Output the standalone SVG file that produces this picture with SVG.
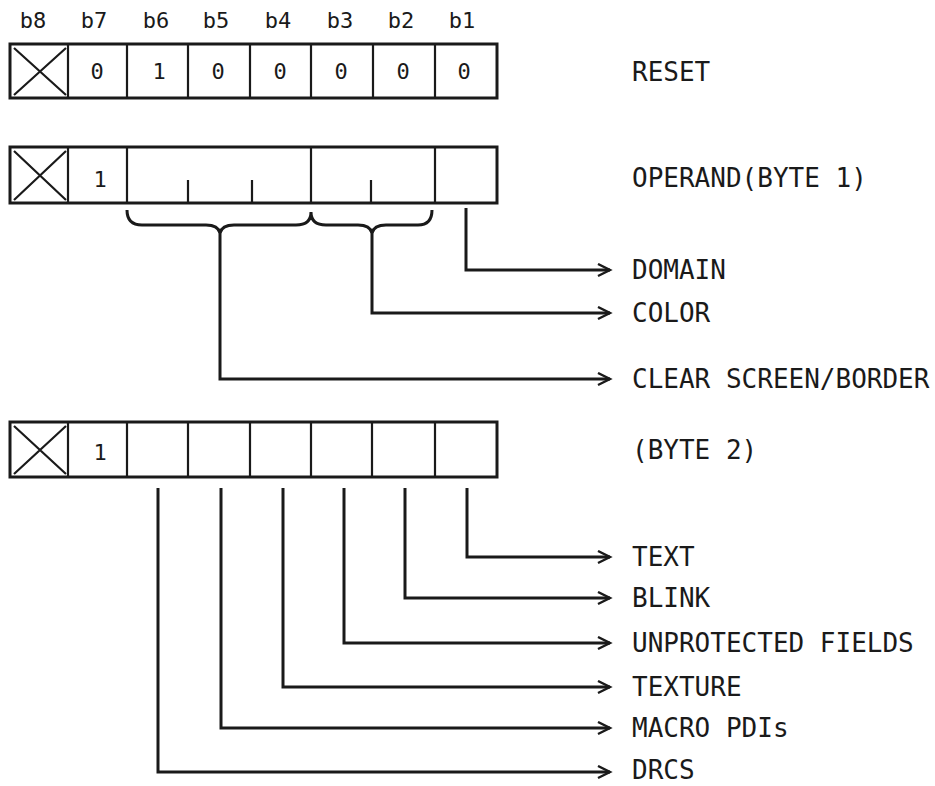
<svg xmlns="http://www.w3.org/2000/svg" width="935" height="786" viewBox="0 0 935 786">
<defs>
<style>
.box{fill:none;stroke:#1a1a1a;stroke-width:3}
.div{stroke:#1a1a1a;stroke-width:2.2;fill:none}
.tick{stroke:#1a1a1a;stroke-width:2.2}
.con{fill:none;stroke:#1a1a1a;stroke-width:3;stroke-linejoin:miter}
.lbl{font-family:"DejaVu Sans Mono","Liberation Mono",monospace;font-size:26px;fill:#1a1a1a}
.hdr{font-family:"DejaVu Sans Mono","Liberation Mono",monospace;font-size:22px;fill:#1a1a1a;text-anchor:middle}
.dig{font-family:"DejaVu Sans Mono","Liberation Mono",monospace;font-size:22px;fill:#1a1a1a;text-anchor:middle}
</style>
<marker id="arr" markerUnits="userSpaceOnUse" markerWidth="16" markerHeight="16" refX="13" refY="7" orient="auto">
<path d="M1,1 L13,7 L1,13" fill="none" stroke="#1a1a1a" stroke-width="2.4"/>
</marker>
</defs>
<rect width="935" height="786" fill="#fff"/>

<g id="header">
<text class="hdr" x="33" y="28">b8</text>
<text class="hdr" x="94" y="28">b7</text>
<text class="hdr" x="156" y="28">b6</text>
<text class="hdr" x="216" y="28">b5</text>
<text class="hdr" x="278" y="28">b4</text>
<text class="hdr" x="340" y="28">b3</text>
<text class="hdr" x="401" y="28">b2</text>
<text class="hdr" x="462" y="28">b1</text>
</g>

<g id="reset-byte">
<rect class="box" x="10" y="44" width="487" height="54"/>
<path class="div" d="M68,44V98M127,44V98M188,44V98M250,44V98M311,44V98M373,44V98M435,44V98"/>
<path class="div" d="M14,48L66,95M14,95L66,48"/>
<text class="dig" x="97" y="79">0</text>
<text class="dig" x="159" y="79">1</text>
<text class="dig" x="218" y="79">0</text>
<text class="dig" x="280" y="79">0</text>
<text class="dig" x="341" y="79">0</text>
<text class="dig" x="403" y="79">0</text>
<text class="dig" x="464" y="79">0</text>
</g>
<text id="label-reset" class="lbl" x="632" y="81">RESET</text>

<g id="operand-byte1">
<rect class="box" x="10" y="147" width="487" height="56"/>
<path class="div" d="M68,147V203M127,147V203M311,147V203M435,147V203"/>
<path class="tick" d="M188,180V203M252,180V203M371,180V203"/>
<path class="div" d="M14,151L66,200M14,200L66,151"/>
<text class="dig" x="100" y="187">1</text>
</g>
<text id="label-operand" class="lbl" x="632" y="187">OPERAND(BYTE 1)</text>

<g id="byte2">
<rect class="box" x="10" y="422" width="487" height="55"/>
<path class="div" d="M68,422V477M127,422V477M188,422V477M250,422V477M311,422V477M372,422V477M435,422V477"/>
<path class="div" d="M14,426L66,474M14,474L66,426"/>
<text class="dig" x="100" y="460">1</text>
</g>
<text id="label-byte2" class="lbl" x="632" y="459">(BYTE 2)</text>

<g id="connectors">
<path class="con" d="M127,210Q127,225 142,225L206,225Q218,225 220,233Q222,225 234,225L296,225Q311,225 311,212Q311,225 326,225L358,225Q370,225 372,233Q374,225 386,225L418,225Q432,225 432,210"/>
<path class="con" marker-end="url(#arr)" d="M466,208V270H610"/>
<path class="con" marker-end="url(#arr)" d="M372,232V313H610"/>
<path class="con" marker-end="url(#arr)" d="M220,232V379H610"/>
<path class="con" marker-end="url(#arr)" d="M467,488V557H610"/>
<path class="con" marker-end="url(#arr)" d="M405,488V598H610"/>
<path class="con" marker-end="url(#arr)" d="M344,488V643H610"/>
<path class="con" marker-end="url(#arr)" d="M283,488V687H610"/>
<path class="con" marker-end="url(#arr)" d="M221,488V728H610"/>
<path class="con" marker-end="url(#arr)" d="M158,488V772H610"/>
</g>

<g id="labels">
<text class="lbl" x="632" y="279">DOMAIN</text>
<text class="lbl" x="632" y="322">COLOR</text>
<text class="lbl" x="632" y="388">CLEAR SCREEN/BORDER</text>
<text class="lbl" x="632" y="566">TEXT</text>
<text class="lbl" x="632" y="607">BLINK</text>
<text class="lbl" x="632" y="652">UNPROTECTED FIELDS</text>
<text class="lbl" x="632" y="696">TEXTURE</text>
<text class="lbl" x="632" y="737">MACRO PDIs</text>
<text class="lbl" x="632" y="779">DRCS</text>
</g>
</svg>
